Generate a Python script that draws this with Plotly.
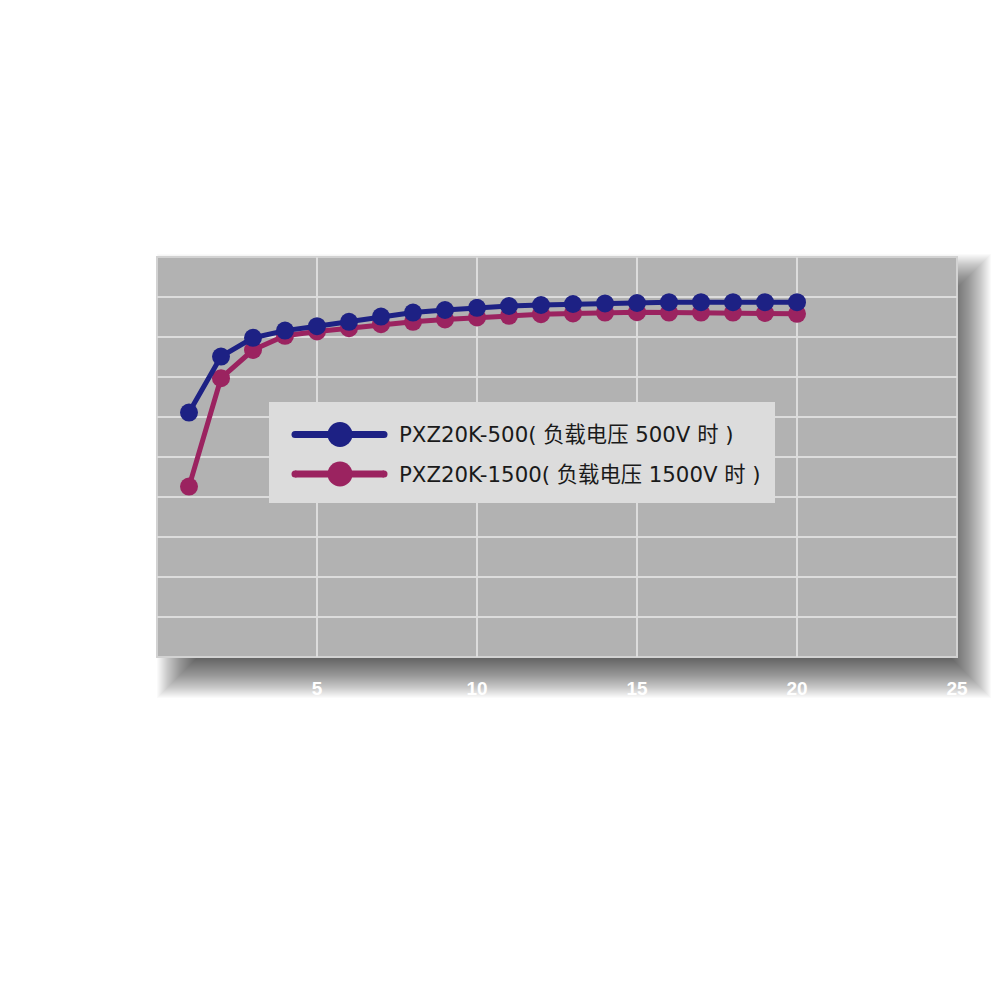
import plotly.graph_objects as go

# ---- data ----
x_vals = list(range(1, 21))
eff_500 = [61.1, 75.1, 79.8, 81.6, 82.7, 83.8, 85.1, 86.1, 86.75, 87.3,
           87.75, 88.0, 88.25, 88.4, 88.5, 88.7, 88.7, 88.7, 88.7, 88.7]
eff_1500 = [42.6, 69.7, 76.75, 80.3, 81.4, 82.2, 83.2, 83.8, 84.4, 84.9,
            85.3, 85.7, 85.9, 86.1, 86.2, 86.1, 86.1, 86.1, 86.0, 85.8]
series_names = ["PXZ20K-500( 负载电压 500V 时 )", "PXZ20K-1500( 负载电压 1500V 时 )"]
series_colors = ["#1d2184", "#9b2360"]
x_ticks = [5, 10, 15, 20, 25]

# ---- layout geometry (pixels, page offset of 8px compensated) ----
OFF = 8
W, H = 1001 - OFF, 1001 - OFF
L, R, T, B = 157 - OFF, 957 - OFF, 257 - OFF, 657 - OFF
pw, ph = R - L, B - T


def px(x):
    return (x - OFF - L) / pw


def py(y):
    return (B - (y - OFF)) / ph


fig = go.Figure()

# pink first, blue on top
for name, yv, col in [(series_names[1], eff_1500, series_colors[1]),
                      (series_names[0], eff_500, series_colors[0])]:
    fig.add_trace(go.Scatter(
        x=x_vals, y=yv, name=name, mode="lines+markers",
        line=dict(color=col, width=5),
        marker=dict(color=col, size=18),
        showlegend=False, cliponaxis=False,
    ))

shapes = []
# blurred drop shadow simulated with stacked translucent rects
N = 40
core = dict(x0=176, x1=972, y0=273, y1=679)
for i in range(N):
    d = -20 + i
    shapes.append(dict(
        type="rect", xref="paper", yref="paper", layer="below",
        x0=px(core["x0"] - d), x1=px(core["x1"] + d),
        y0=py(core["y1"] + d), y1=py(core["y0"] - d),
        fillcolor="rgba(0,0,0,0.021)", line=dict(width=0),
    ))
# plot area panel
shapes.append(dict(
    type="rect", xref="paper", yref="paper", layer="below",
    x0=0, x1=1, y0=0, y1=1, fillcolor="#b2b2b2",
    line=dict(color="#d2d2d2", width=2),
))

# manual legend
shapes.append(dict(
    type="rect", xref="paper", yref="paper", layer="above",
    x0=px(269), x1=px(775), y0=py(503), y1=py(402),
    fillcolor="#dcdcdc", line=dict(width=0),
))
annotations = []
rows = [434.5, 474.0]
order = [0, 1]
for row_y, k in zip(rows, order):
    col = series_colors[k]
    shapes.append(dict(
        type="line", xref="paper", yref="paper", layer="above",
        x0=px(295), x1=px(384), y0=py(row_y), y1=py(row_y),
        line=dict(color=col, width=7),
    ))
    for cx, r in [(295, 3.5), (384, 3.5), (340, 12.5)]:
        shapes.append(dict(
            type="circle", xref="paper", yref="paper", layer="above",
            xsizemode="pixel", ysizemode="pixel",
            xanchor=px(cx), yanchor=py(row_y),
            x0=-r, x1=r, y0=-r, y1=r,
            fillcolor=col, line=dict(width=0),
        ))
    annotations.append(dict(
        text=series_names[k], xref="paper", yref="paper",
        x=px(397), y=py(row_y), xanchor="left", yanchor="middle",
        showarrow=False,
        font=dict(family="DejaVu Sans, Noto Sans CJK SC", size=21.3, color="#1a1a1a"),
    ))

fig.update_layout(
    width=W, height=H,
    margin=dict(l=L, r=W - R, t=T, b=H - B, pad=0),
    paper_bgcolor="white",
    plot_bgcolor="rgba(0,0,0,0)",
    shapes=shapes,
    annotations=annotations,
    showlegend=False,
    xaxis=dict(
        range=[0, 25], tickvals=x_ticks, ticktext=[str(t) for t in x_ticks],
        showgrid=True, gridcolor="#dcdcdc", gridwidth=2,
        zeroline=False, showline=False, ticks="",
        ticklabelstandoff=18,
        tickfont=dict(family="Liberation Sans", size=19, color="white", weight="bold"),
    ),
    yaxis=dict(
        range=[0, 100], dtick=10,
        showgrid=True, gridcolor="#dcdcdc", gridwidth=2,
        zeroline=False, showline=False, showticklabels=False, ticks="",
    ),
)

fig.write_html("out.html")
